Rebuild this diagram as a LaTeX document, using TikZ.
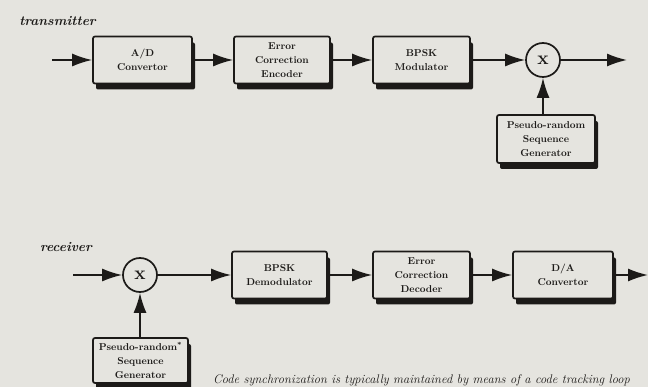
\documentclass[tikz,border=0pt]{standalone}
\usetikzlibrary{arrows.meta,shadows}
\definecolor{paper}{RGB}{229,228,223}
\definecolor{ink}{RGB}{28,26,24}
\tikzset{
  blk/.style={draw=ink, line width=1.7pt, fill=paper, rounded corners=2pt,
    minimum width=#1, minimum height=47pt, align=center, inner sep=1pt,
    font=\fontsize{10}{14}\selectfont\bfseries, text=ink,
    drop shadow={shadow xshift=3pt, shadow yshift=-6pt, fill=ink, opacity=1}},
  mixer/.style={draw=ink, line width=1.7pt, fill=paper, circle, minimum size=34pt,
    inner sep=0pt, font=\fontsize{19}{19}\selectfont\bfseries, text=ink},
  arr/.style={draw=ink, line width=1.7pt, -{Latex[length=20pt,width=13pt]}},
  lbl/.style={font=\fontsize{13.5}{15}\selectfont\bfseries\itshape, text=ink, inner sep=0pt},
  captext/.style={font=\fontsize{12.5}{14}\selectfont\itshape, text=ink, inner sep=0pt}
}
\begin{document}
\begin{tikzpicture}[x=1pt,y=-1pt]
\fill[paper] (0,0) rectangle (648,387);
\useasboundingbox (0,0) rectangle (648,387);

\node[lbl] (tlab) at (57.5,21) {transmitter};
\node[blk=99pt] (ad) at (142.5,60) {A/D\\Convertor};
\node[blk=96pt] (ece) at (282,60) {Error\\Correction\\Encoder};
\node[blk=97pt] (bpsk) at (421.5,60) {BPSK\\Modulator};
\node[mixer] (mixt) at (543,60) {x};
\node[blk=98pt, minimum height=48pt] (pnt) at (546,139) {Pseudo-random\\Sequence\\Generator};
\coordinate (tin) at (52,60);
\coordinate (tout) at (627,60);
\draw[arr] (tin) -- (ad);
\draw[arr] (ad) -- (ece);
\draw[arr] (ece) -- (bpsk);
\draw[arr] (bpsk) -- (mixt);
\draw[arr] (mixt) -- (tout);
\draw[arr] (pnt.north -| mixt) -- (mixt);

\node[lbl] (rlab) at (66,247) {receiver};
\node[mixer] (mixr) at (140,275) {x};
\node[blk=95pt, minimum height=45pt] (pnr) at (140.5,360.5) {Pseudo-random\textsuperscript{*}\\Sequence\\Generator};
\node[blk=95pt] (bpskd) at (279.5,275) {BPSK\\Demodulator};
\node[blk=97pt] (ecd) at (421.5,275) {Error\\Correction\\Decoder};
\node[blk=100pt] (da) at (563,275) {D/A\\Convertor};
\coordinate (rin) at (73,275);
\coordinate (rout) at (648,275);
\draw[arr] (rin) -- (mixr);
\draw[arr] (mixr) -- (bpskd);
\draw[arr] (bpskd) -- (ecd);
\draw[arr] (ecd) -- (da);
\draw[arr] (da) -- (rout);
\draw[arr] (pnr.north -| mixr) -- (mixr);

\node[captext] (caption) at (421.5,380) {Code synchronization is typically maintained by means of a code tracking loop};
\end{tikzpicture}
\end{document}
